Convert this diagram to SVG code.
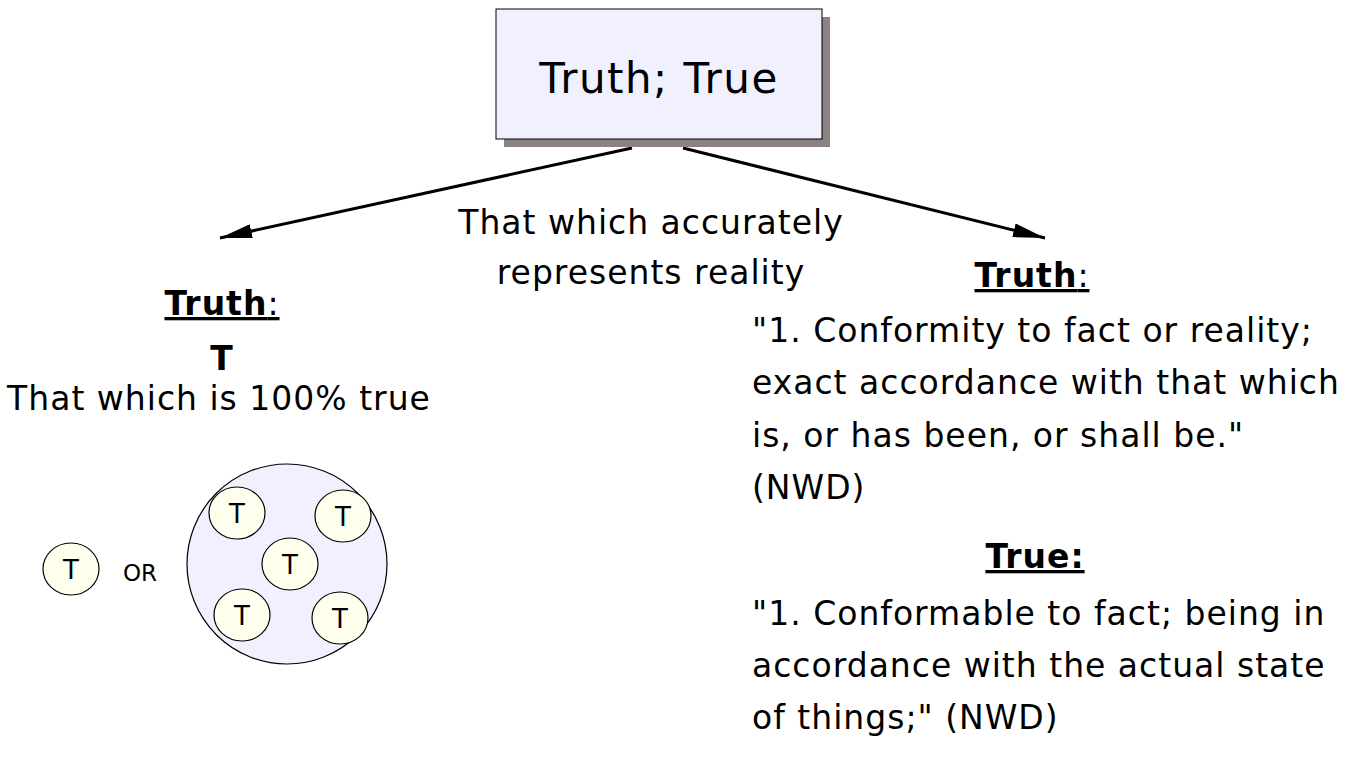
<svg xmlns="http://www.w3.org/2000/svg" width="1354" height="762" viewBox="0 0 1354 762">
<style>
text{font-family:"DejaVu Sans","Liberation Sans",sans-serif;fill:#000}
.big{font-size:42px;letter-spacing:1.5px}
.body{font-size:33px;letter-spacing:1px}
.head{font-size:33px;font-weight:bold;text-decoration:underline;letter-spacing:1px}
.sm{fill:#ffffee;stroke:#000;stroke-width:1.2}
.st{font-size:26px;text-anchor:middle}
.c{text-anchor:middle}
</style>
<defs>
<marker id="arr" viewBox="0 0 32 14" refX="32" refY="7" markerWidth="32" markerHeight="14" markerUnits="userSpaceOnUse" orient="auto">
<path d="M0,0 L32,7 L0,14 Z" fill="#000"/>
</marker>
</defs>
<rect width="1354" height="762" fill="#fff"/>
<g id="connectors" stroke="#000" stroke-width="3" fill="none">
<line x1="632" y1="148" x2="220" y2="238" marker-end="url(#arr)"/>
<line x1="683" y1="148" x2="1045" y2="238" marker-end="url(#arr)"/>
</g>
<g id="root">
<rect x="504" y="17" width="326" height="130" fill="#8c8282"/>
<rect x="496" y="9" width="326" height="130" fill="#f0f0ff" stroke="#000" stroke-width="1"/>
<text class="big c" x="659" y="93">Truth; True</text>
</g>
<g id="middle-label">
<text class="body c" x="651" y="234">That which accurately</text>
<text class="body c" x="651" y="284">represents reality</text>
</g>
<g id="left-node">
<text class="head c" x="222" y="315">Truth<tspan font-weight="normal" text-decoration="none">:</tspan></text>
<text class="body c" x="222" y="370" font-weight="bold">T</text>
<text class="body c" x="219" y="410">That which is 100% true</text>
<g id="single">
<ellipse class="sm" cx="71" cy="569" rx="28" ry="26"/>
<text class="st" x="71" y="579">T</text>
</g>
<text x="140" y="581" style="font-size:23px;text-anchor:middle">OR</text>
<g id="set">
<circle cx="287" cy="564" r="100" fill="#f0f0ff" stroke="#000" stroke-width="1.2"/>
<ellipse class="sm" cx="237" cy="513" rx="28" ry="26"/>
<text class="st" x="237" y="523">T</text>
<ellipse class="sm" cx="343" cy="516" rx="28" ry="26"/>
<text class="st" x="343" y="526">T</text>
<ellipse class="sm" cx="290" cy="564" rx="28" ry="26"/>
<text class="st" x="290" y="574">T</text>
<ellipse class="sm" cx="242" cy="615" rx="28" ry="26"/>
<text class="st" x="242" y="625">T</text>
<ellipse class="sm" cx="340" cy="618" rx="28" ry="26"/>
<text class="st" x="340" y="628">T</text>
</g>
</g>
<g id="right-node">
<text class="head c" x="1032" y="287">Truth<tspan font-weight="normal" text-decoration="none">:</tspan></text>
<text class="body" x="752" y="342">"1. Conformity to fact or reality;</text>
<text class="body" x="752" y="394">exact accordance with that which</text>
<text class="body" x="752" y="447">is, or has been, or shall be."</text>
<text class="body" x="752" y="499">(NWD)</text>
<text class="head c" x="1035" y="568">True:</text>
<text class="body" x="752" y="625">"1. Conformable to fact; being in</text>
<text class="body" x="752" y="677">accordance with the actual state</text>
<text class="body" x="752" y="729">of things;" (NWD)</text>
</g>
</svg>
